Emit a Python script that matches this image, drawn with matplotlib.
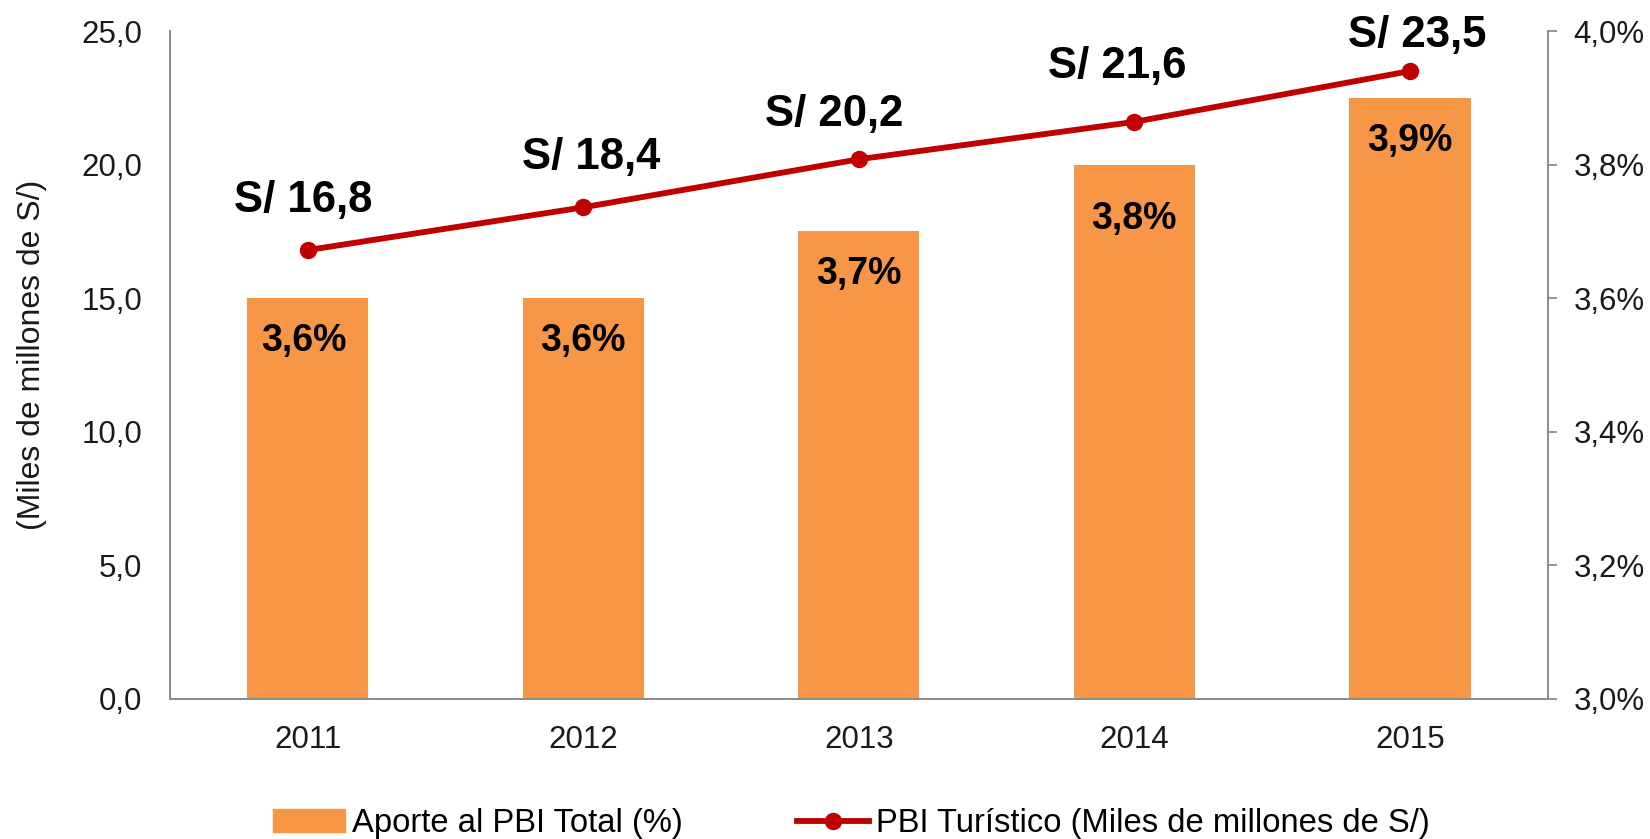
import matplotlib
matplotlib.use('Agg')
import matplotlib.pyplot as plt
import numpy as np

years = ['2011', '2012', '2013', '2014', '2015']
aporte_pct = [3.6, 3.6, 3.7, 3.8, 3.9]           # bars, right axis (%)
pbi_turistico = [16.8, 18.4, 20.2, 21.6, 23.5]   # line, left axis (miles de millones S/)

bar_color = '#F79646'
line_color = '#C00000'
spine_color = '#8C8C8C'
text_color = '#1A1A1A'

plt.rcParams['font.family'] = ['Liberation Sans', 'DejaVu Sans']

fig = plt.figure(figsize=(16.5, 8.39), dpi=100)
ax = fig.add_axes([0.103, 0.167, 0.835, 0.796])
ax2 = ax.twinx()

x = np.arange(len(years))

# bars on the right (percent) axis, line on the left axis
ax2.bar(x, aporte_pct, width=0.44, color=bar_color, zorder=1)
ax2.set_ylim(3.0, 4.0)
ax.set_zorder(ax2.get_zorder() + 1)
ax.patch.set_visible(False)

ax.plot(x, pbi_turistico, color=line_color, lw=4.2, marker='o', markersize=11.5, zorder=3)
ax.set_ylim(0, 25)
ax.set_xlim(-0.5, len(years) - 0.5)

# data labels (offsets in points, placed by hand like the original)
line_offsets = [(-3, 36), (6, 36), (-18, 32), (-12, 40), (5, 26)]
for i, v in enumerate(pbi_turistico):
    ax.annotate('S/ ' + f'{v:.1f}'.replace('.', ','), (x[i], v),
                xytext=line_offsets[i], textcoords='offset points',
                ha='center', va='center', fontsize=31.5, fontweight='bold', color='black')

bar_offsets = [(-3, -31), (0, -31), (0, -31), (0, -39), (0, -31)]
for i, v in enumerate(aporte_pct):
    ax2.annotate(f'{v:.1f}%'.replace('.', ','), (x[i], v),
                 xytext=bar_offsets[i], textcoords='offset points',
                 ha='center', va='center', fontsize=27, fontweight='bold', color='black')

# axes styling
ax.set_yticks(np.arange(0, 25.1, 5))
ax.set_yticklabels([f'{t:.1f}'.replace('.', ',') for t in np.arange(0, 25.1, 5)])
ax2.set_yticks(np.arange(3.0, 4.01, 0.2))
ax2.set_yticklabels([f'{t:.1f}%'.replace('.', ',') for t in np.arange(3.0, 4.01, 0.2)])
ax.set_xticks(x)
ax.set_xticklabels(years)

for a in (ax, ax2):
    a.spines['top'].set_visible(False)
    for s in ('left', 'right', 'bottom'):
        a.spines[s].set_color(spine_color)
        a.spines[s].set_linewidth(1.3)

ax.tick_params(axis='y', length=0, pad=20, labelsize=22.5, labelcolor=text_color)
ax.tick_params(axis='x', length=0, pad=19, labelsize=22.5, labelcolor=text_color)
ax2.tick_params(axis='y', direction='out', length=6.5, width=1.3, color=spine_color,
                pad=12, labelsize=22.5, labelcolor=text_color)

ax.set_ylabel('(Miles de millones de S/)', fontsize=23, color=text_color)
ax.yaxis.set_label_coords(-0.089, 0.515)

handles = [plt.Rectangle((0, 0), 1, 1, color=bar_color),
           plt.Line2D([], [], color=line_color, lw=4.2, marker='o', markersize=11.5)]
fig.legend(handles, ['Aporte al PBI Total (%)', 'PBI Turístico (Miles de millones de S/)'],
           loc='center', bbox_to_anchor=(0.516, 0.018), ncol=2, frameon=False,
           prop={'size': 23.6}, handlelength=2.2,
           handletextpad=0.2, columnspacing=3.5)

fig.savefig('out.png', dpi=100)
